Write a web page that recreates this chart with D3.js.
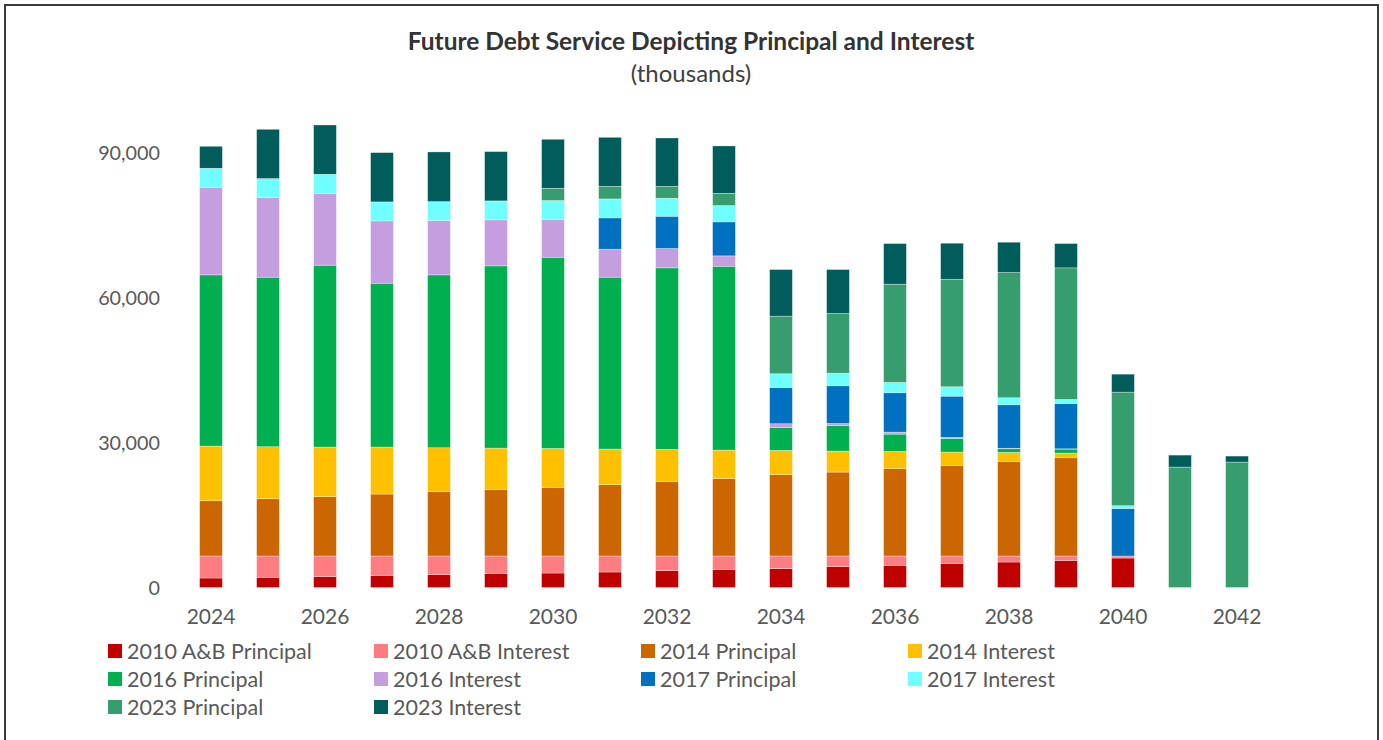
<!DOCTYPE html>
<html>
<head>
<meta charset="utf-8">
<script src="https://cdn.jsdelivr.net/npm/d3@7"></script>
<style>
  html, body { margin: 0; padding: 0; background: #fff; }
  svg { display: block; }
</style>
</head>
<body>
<svg id="chart" width="1383" height="740"></svg>
<script>
// Fiscal years shown on the category axis
const years = [2024, 2025, 2026, 2027, 2028, 2029, 2030, 2031, 2032, 2033,
               2034, 2035, 2036, 2037, 2038, 2039, 2040, 2041, 2042];

// Debt service by bond issue (thousands), bottom of stack to top
const p2010 = [1970, 2110, 2240, 2440, 2650, 2860, 3000, 3210, 3480, 3690, 3900, 4310, 4520, 5000, 5280, 5620, 6100, 0, 0];
const i2010 = [4550, 4410, 4280, 4080, 3870, 3660, 3520, 3310, 3040, 2830, 2620, 2210, 2000, 1520, 1240, 900, 410, 0, 0];
const p2014 = [11440, 11850, 12270, 12830, 13310, 13790, 14200, 14760, 15380, 16070, 16830, 17380, 18070, 18760, 19580, 20340, 0, 0, 0];
const i2014 = [11320, 10770, 10280, 9720, 9100, 8550, 8070, 7380, 6690, 5860, 5030, 4340, 3580, 2760, 1870, 970, 0, 0, 0];
const p2016 = [35440, 35110, 37660, 33930, 35790, 37730, 39590, 35590, 37590, 38070, 4760, 5310, 3590, 2820, 760, 830, 0, 0, 0];
const i2016 = [18150, 16480, 14830, 12900, 11250, 9520, 7800, 5790, 4000, 2140, 760, 420, 410, 210, 100, 50, 0, 0, 0];
const p2017 = [0, 0, 0, 0, 0, 0, 0, 6490, 6690, 7040, 7520, 7790, 8140, 8550, 9000, 9400, 9870, 0, 0];
const i2017 = [3930, 3930, 4000, 3930, 3930, 3930, 3930, 3920, 3720, 3370, 2830, 2620, 2140, 1940, 1450, 820, 550, 0, 0];
const p2023 = [0, 0, 0, 0, 0, 0, 2550, 2620, 2480, 2550, 11930, 12350, 20350, 22270, 25930, 27250, 23520, 24930, 25970];
const i2023 = [4550, 10210, 10200, 10210, 10280, 10210, 10140, 10140, 10000, 9800, 9650, 9100, 8410, 7450, 6280, 5030, 3720, 2480, 1240];

const seriesNames = ["2010 A&B Principal", "2010 A&B Interest", "2014 Principal", "2014 Interest",
                     "2016 Principal", "2016 Interest", "2017 Principal", "2017 Interest",
                     "2023 Principal", "2023 Interest"];
const seriesValues = [p2010, i2010, p2014, i2014, p2016, i2016, p2017, i2017, p2023, i2023];
const seriesColors = ["#C00000", "#FF7C80", "#CC6600", "#FFC000", "#00B050",
                      "#C59EE0", "#0070C0", "#6FFFFF", "#369D6E", "#015C5C"];

const yTicks = [0, 30000, 60000, 90000];

// Build rows for d3.stack
const rows = years.map((yr, i) => {
  const r = { year: yr };
  seriesNames.forEach((name, s) => { r[name] = seriesValues[s][i]; });
  return r;
});
const stacked = d3.stack().keys(seriesNames)(rows);

const svg = d3.select("#chart");
const FONT = "Lato, 'Open Sans', sans-serif";

// Outer frame
svg.append("rect")
  .attr("x", 5).attr("y", 5)
  .attr("width", 1373).attr("height", 745)
  .attr("fill", "none").attr("stroke", "#3a3a3a").attr("stroke-width", 2);

// Titles
svg.append("text")
  .attr("x", 691).attr("y", 50)
  .attr("text-anchor", "middle")
  .attr("font-family", FONT).attr("font-weight", "bold")
  .attr("font-size", 24.5).attr("fill", "#333")
  .text("Future Debt Service Depicting Principal and Interest");
svg.append("text")
  .attr("x", 691).attr("y", 82)
  .attr("text-anchor", "middle")
  .attr("font-family", FONT)
  .attr("font-size", 24).attr("fill", "#404040")
  .text("(thousands)");

// Scales
const x = d3.scaleBand()
  .domain(years)
  .range([182.5, 1265.5])
  .paddingInner(0.6).paddingOuter(0.3);
const y = d3.scaleLinear()
  .domain([0, 100000])
  .range([587.5, 104.5]);

// Stacked bars
const layers = svg.append("g").selectAll("g")
  .data(stacked)
  .join("g")
  .attr("fill", (d, i) => seriesColors[i]);

layers.selectAll("rect")
  .data(d => d.filter(v => v[1] - v[0] > 0))
  .join("rect")
  .attr("x", d => x(d.data.year))
  .attr("width", x.bandwidth())
  .attr("y", d => y(d[1]))
  .attr("height", d => y(d[0]) - y(d[1]))
  .attr("stroke", "rgba(255,255,255,0.55)")
  .attr("stroke-width", 0.6);

// Y axis (labels only)
const yAxis = d3.axisLeft(y).tickValues(yTicks).tickFormat(d3.format(",")).tickSize(0).tickPadding(0);
const gy = svg.append("g").attr("transform", "translate(160,0)").call(yAxis);
gy.select(".domain").remove();
gy.selectAll("text")
  .attr("font-family", FONT).attr("font-size", 19.8).attr("fill", "#595959")
  .attr("dy", "0.35em");

// X axis (every other year labelled)
const xAxis = d3.axisBottom(x)
  .tickValues(years.filter((d, i) => i % 2 === 0))
  .tickSize(0).tickPadding(0);
const gx = svg.append("g").attr("transform", "translate(0,617)").call(xAxis);
gx.select(".domain").remove();
gx.selectAll("text")
  .attr("font-family", FONT).attr("font-size", 21).attr("fill", "#595959")
  .attr("dy", "0.35em");

// Legend: 4 columns, filled row by row
const legend = svg.append("g");
const colX = [108, 374, 641, 908];
const rowY = [651, 679, 707];
seriesNames.forEach((name, i) => {
  const cx = colX[i % 4], cy = rowY[Math.floor(i / 4)];
  const g = legend.append("g").attr("transform", `translate(${cx},${cy})`);
  g.append("rect").attr("x", 0).attr("y", -7).attr("width", 14).attr("height", 14)
    .attr("fill", seriesColors[i]);
  g.append("text").attr("x", 19).attr("y", 0).attr("dy", "0.35em")
    .attr("font-family", FONT).attr("font-size", 21.5).attr("fill", "#595959")
    .text(name);
});
</script>
</body>
</html>
